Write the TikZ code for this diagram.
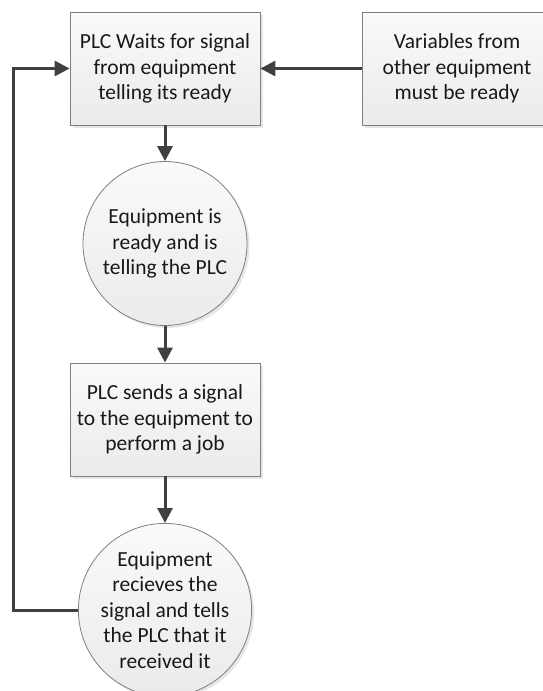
\documentclass[tikz,border=0pt]{standalone}
\usepackage{fontspec}
\setmainfont{Carlito}
\usetikzlibrary{arrows.meta,shadows}
\definecolor{linec}{HTML}{404040}
\definecolor{borderc}{HTML}{7F7F7F}
\tikzset{
  shapebase/.style={draw=borderc, line width=0.8pt, top color=white!98!black, bottom color=black!8,
    drop shadow={shadow xshift=2.5pt, shadow yshift=-2.5pt, opacity=0.2},
    align=center, inner sep=0pt, font=\fontsize{21.5}{25.5}\selectfont, text=black!90},
  procbox/.style={shapebase, rectangle, minimum width=190pt, minimum height=113pt},
  statecirc/.style={shapebase, circle, minimum size=164pt},
  arr/.style={draw=linec, line width=3pt, -{Triangle[length=15pt,width=15pt]}}
}
\begin{document}
\begin{tikzpicture}[x=1pt,y=-1pt]
\useasboundingbox (0,0) rectangle (542,691);
\node[procbox] (b1) at (165,68.5) {PLC Waits for signal\\from equipment\\telling its ready};
\node[procbox] (b2) at (457,68.5) {Variables from\\other equipment\\must be ready};
\node[statecirc] (c1) at (165,243.5) {Equipment is\\ready and is\\telling the PLC};
\node[procbox] (b3) at (165,419.5) {PLC sends a signal\\to the equipment to\\perform a job};
\node[statecirc] (c2) at (165,610) {Equipment\\recieves the\\signal and tells\\the PLC that it\\received it};
\coordinate (fbx) at (13.5,0);
\draw[arr] (b2.west) -- (b1.east);
\draw[arr] (b1.south) -- (c1.north);
\draw[arr] (c1.south) -- (b3.north);
\draw[arr] (b3.south) -- (c2.north);
\draw[arr] (c2.west) -- (c2.west -| fbx) |- (b1.west);
\end{tikzpicture}
\end{document}
